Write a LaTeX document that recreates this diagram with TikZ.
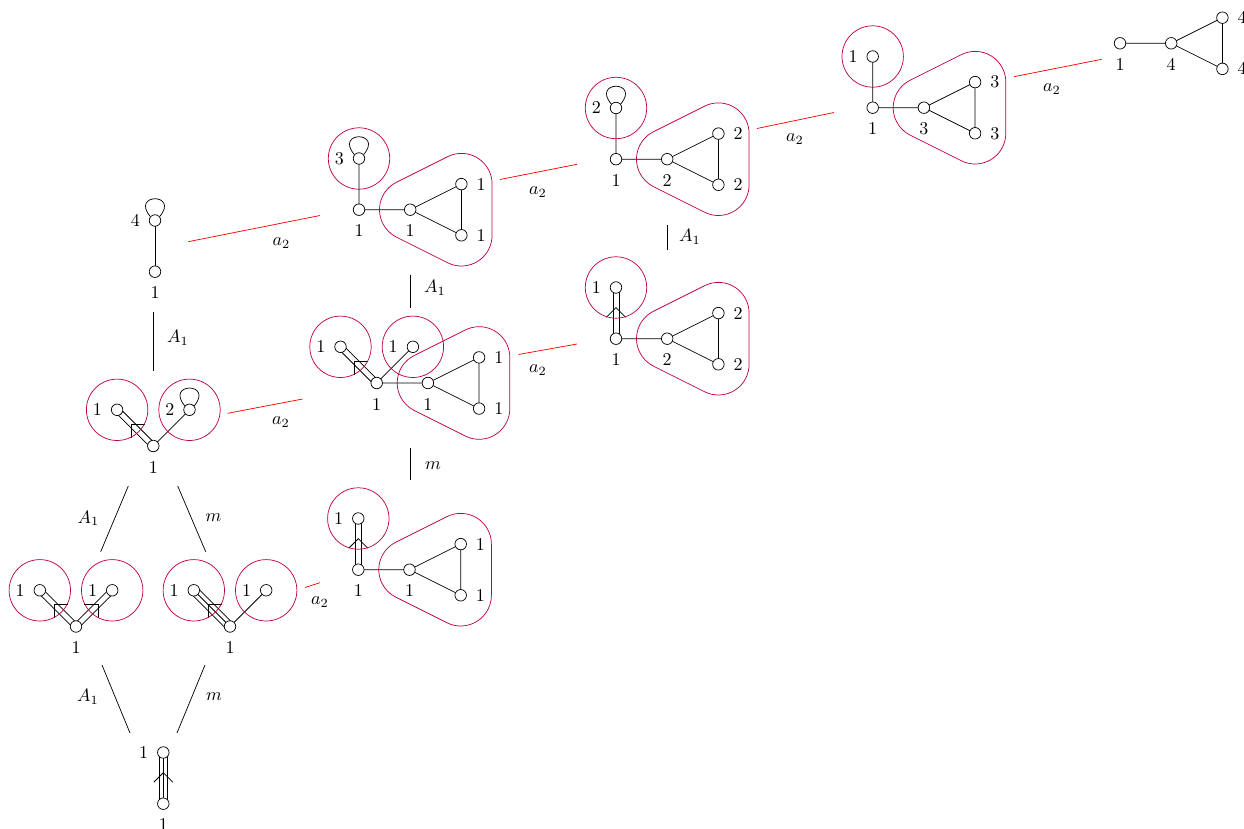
\documentclass[tikz,border=0pt]{standalone}
\usetikzlibrary{calc}
\pgfdeclarelayer{bg}
\pgfsetlayers{bg,main}
\colorlet{hlcol}{purple}
\tikzset{
  vtx/.style={circle, draw, fill=white, minimum size=6.4pt, inner sep=0pt, line width=0.4pt},
  hl/.style={draw=hlcol, line width=0.4pt},
  rel/.style={draw=red, line width=0.4pt},
  conn/.style={draw=black, line width=0.4pt},
  lbl/.style={inner sep=0pt},
}
% one strand of a bond, shifted sideways by #3
\newcommand\strand[3]{%
  \draw ($(#1)!#3!90:(#2)$) -- ($(#2)!#3!-90:(#1)$);
}
% double and triple bonds between vertex centres
\newcommand\dblbond[2]{\strand{#1}{#2}{1.65pt}\strand{#1}{#2}{-1.65pt}}
\newcommand\trpbond[2]{\strand{#1}{#2}{2.4pt}\strand{#1}{#2}{0pt}\strand{#1}{#2}{-2.4pt}}
% arrow mark on a multiple bond, pointing from #1 towards #2
\newcommand\dynmark[2]{%
  \coordinate (wv) at ($(#1)!0.5!(#2)!3pt!(#2)$);
  \draw ($(wv)!7.5pt!45:(#1)$) -- (wv) -- ($(wv)!7.5pt!-45:(#1)$);
}
% small loop on top of a vertex
\newcommand\toploop[1]{%
  \draw (#1.140) .. controls +(130:31) and +(50:31) .. (#1.40);
}
% rounded hull around a triangle: left vertex #1, upper #2, lower #3
\newcommand\blob[3]{%
  \draw[hl] ($(#1)+(116.57:30.7)$) arc[start angle=116.57, end angle=243.43, radius=30.7]
    -- ($(#3)+(243.43:30.7)$) arc[start angle=243.43, end angle=360, radius=30.7]
    -- ($(#2)+(0:30.7)$) arc[start angle=0, end angle=116.57, radius=30.7] -- cycle;
}
\newcommand\ring[1]{\draw[hl] (#1) circle[radius=30.7];}
\begin{document}
\begin{tikzpicture}[x=0.5556pt, y=0.5556pt, label distance=1.5pt]
\useasboundingbox (0,0) rectangle (1244,-829);

% ---------- vertices ----------
% G1
\node[vtx, label=left:4] (a1) at (155,-220.5) {};
\node[vtx, label=below:1] (b1) at (155,-271.7) {};
% G2
\node[vtx, label=below:1] (c2) at (153.3,-446) {};
\node[vtx, label=left:1] (d2) at (117.1,-409.8) {};
\node[vtx, label=left:2] (e2) at (189.5,-409.8) {};
% G3
\node[vtx, label=below:1] (c3) at (76,-626.5) {};
\node[vtx, label=left:1] (d3) at (39.8,-590.3) {};
\node[vtx, label=left:1] (e3) at (112.2,-590.3) {};
% G4
\node[vtx, label=below:1] (c4) at (230,-626.5) {};
\node[vtx, label=left:1] (d4) at (193.8,-590.3) {};
\node[vtx, label=left:1] (e4) at (266.2,-590.3) {};
% G5
\node[vtx, label=left:1] (t5) at (163.3,-752.5) {};
\node[vtx, label=below:1] (b5) at (163.3,-803.7) {};
% G6
\node[vtx, label=left:3] (t6) at (359,-158.5) {};
\node[vtx, label=below:1] (b6) at (359,-209.7) {};
\node[vtx, label=below:1] (p6) at (410.2,-209.7) {};
\node[vtx, label=right:1] (q6) at (461.4,-184.1) {};
\node[vtx, label=right:1] (r6) at (461.4,-235.3) {};
% G7
\node[vtx, label=below:1] (c7) at (376.7,-383) {};
\node[vtx, label=left:1] (d7) at (340.5,-346.8) {};
\node[vtx, label=left:1] (e7) at (412.9,-346.8) {};
\node[vtx, label=below:1] (p7) at (427.9,-383) {};
\node[vtx, label=right:1] (q7) at (479.1,-357.4) {};
\node[vtx, label=right:1] (r7) at (479.1,-408.6) {};
% G8
\node[vtx, label=left:1] (t8) at (358.3,-518.5) {};
\node[vtx, label=below:1] (b8) at (358.3,-569.7) {};
\node[vtx, label=below:1] (p8) at (409.5,-569.7) {};
\node[vtx, label=right:1] (q8) at (460.7,-544.1) {};
\node[vtx, label=right:1] (r8) at (460.7,-595.3) {};
% G9
\node[vtx, label=left:1] (t9) at (616,-287.5) {};
\node[vtx, label=below:1] (b9) at (616,-338.7) {};
\node[vtx, label=below:2] (p9) at (667.2,-338.7) {};
\node[vtx, label=right:2] (q9) at (718.4,-313.1) {};
\node[vtx, label=right:2] (r9) at (718.4,-364.3) {};
% G10
\node[vtx, label=left:2] (t10) at (616,-108) {};
\node[vtx, label=below:1] (b10) at (616,-159.2) {};
\node[vtx, label=below:2] (p10) at (667.2,-159.2) {};
\node[vtx, label=right:2] (q10) at (718.4,-133.6) {};
\node[vtx, label=right:2] (r10) at (718.4,-184.8) {};
% G11
\node[vtx, label=left:1] (t11) at (872.7,-56.5) {};
\node[vtx, label=below:1] (b11) at (872.7,-107.7) {};
\node[vtx, label=below:3] (p11) at (923.9,-107.7) {};
\node[vtx, label=right:3] (q11) at (975.1,-82.1) {};
\node[vtx, label=right:3] (r11) at (975.1,-133.3) {};
% G12
\node[vtx, label=below:1] (b12) at (1120,-43.3) {};
\node[vtx, label=below:4] (p12) at (1171.2,-43.3) {};
\node[vtx, label=right:4] (q12) at (1222.4,-17.7) {};
\node[vtx, label=right:4] (r12) at (1222.4,-68.9) {};

% ---------- bonds ----------
\begin{pgfonlayer}{bg}
  \draw (a1.center) -- (b1.center);
  \dblbond{c2}{d2}
  \draw (c2.center) -- (e2.center);
  \dblbond{c3}{d3}
  \dblbond{c3}{e3}
  \trpbond{c4}{d4}
  \draw (c4.center) -- (e4.center);
  \trpbond{b5}{t5}
  \draw (t6.center) -- (b6.center) -- (p6.center) -- (q6.center) -- (r6.center) -- (p6.center);
  \dblbond{c7}{d7}
  \draw (c7.center) -- (e7.center);
  \draw (c7.center) -- (p7.center) -- (q7.center) -- (r7.center) -- (p7.center);
  \dblbond{b8}{t8}
  \draw (b8.center) -- (p8.center) -- (q8.center) -- (r8.center) -- (p8.center);
  \dblbond{b9}{t9}
  \draw (b9.center) -- (p9.center) -- (q9.center) -- (r9.center) -- (p9.center);
  \draw (t10.center) -- (b10.center) -- (p10.center) -- (q10.center) -- (r10.center) -- (p10.center);
  \draw (t11.center) -- (b11.center) -- (p11.center) -- (q11.center) -- (r11.center) -- (p11.center);
  \draw (b12.center) -- (p12.center) -- (q12.center) -- (r12.center) -- (p12.center);
\end{pgfonlayer}

% loops
\toploop{a1}
\toploop{e2}
\toploop{t6}
\toploop{t10}

% arrow marks
\dynmark{c2}{d2}
\dynmark{c3}{d3}
\dynmark{c3}{e3}
\dynmark{c4}{d4}
\dynmark{b5}{t5}
\dynmark{c7}{d7}
\dynmark{b8}{t8}
\dynmark{b9}{t9}

% ---------- highlighted parts ----------
\ring{d2} \ring{e2}
\ring{d3} \ring{e3}
\ring{d4} \ring{e4}
\ring{t6} \blob{p6}{q6}{r6}
\ring{d7} \ring{e7} \blob{p7}{q7}{r7}
\ring{t8} \blob{p8}{q8}{r8}
\ring{t9} \blob{p9}{q9}{r9}
\ring{t10} \blob{p10}{q10}{r10}
\ring{t11} \blob{p11}{q11}{r11}

% ---------- black connectors ----------
\coordinate (k1s) at (153,-312);   \coordinate (k1e) at (153,-371);
\coordinate (k2s) at (128.3,-486); \coordinate (k2e) at (100.7,-551.7);
\coordinate (k3s) at (177.7,-486); \coordinate (k3e) at (205.7,-551.7);
\coordinate (k4s) at (102,-665);   \coordinate (k4e) at (130,-733);
\coordinate (k5s) at (205,-665);   \coordinate (k5e) at (177,-733);
\coordinate (k6s) at (410,-275);   \coordinate (k6e) at (410,-308);
\coordinate (k7s) at (410,-448);   \coordinate (k7e) at (410,-480);
\coordinate (k8s) at (667,-225);   \coordinate (k8e) at (667,-250);
\foreach \k in {1,...,8} { \draw[conn] (k\k s) -- (k\k e); }
\node[lbl] (k1l) at (178,-338) {$A_1$};
\node[lbl] (k2l) at (88.5,-518.5) {$A_1$};
\node[lbl] (k3l) at (213.5,-518) {$m$};
\node[lbl] (k4l) at (88,-697) {$A_1$};
\node[lbl] (k5l) at (214,-697) {$m$};
\node[lbl] (k6l) at (435,-288) {$A_1$};
\node[lbl] (k7l) at (433,-466) {$m$};
\node[lbl] (k8l) at (690,-237) {$A_1$};

% ---------- red connectors ----------
\coordinate (r1s) at (188.3,-241.7); \coordinate (r1e) at (320,-215.5);
\coordinate (r2s) at (227.7,-413.3); \coordinate (r2e) at (302.7,-399);
\coordinate (r3s) at (305,-587.5);   \coordinate (r3e) at (320,-582.7);
\coordinate (r4s) at (518.5,-354.5); \coordinate (r4e) at (577,-344);
\coordinate (r5s) at (500,-179.5);   \coordinate (r5e) at (577,-164.3);
\coordinate (r6s) at (757,-128.5);   \coordinate (r6e) at (834,-112.5);
\coordinate (r7s) at (1014,-76.7);   \coordinate (r7e) at (1101.7,-59.3);
\foreach \k in {1,...,7} { \draw[rel] (r\k s) -- (r\k e); }
\node[lbl] (r1l) at (281.3,-243) {$a_2$};
\node[lbl] (r2l) at (281,-422) {$a_2$};
\node[lbl] (r3l) at (320,-602) {$a_2$};
\node[lbl] (r4l) at (538,-370) {$a_2$};
\node[lbl] (r5l) at (538,-192) {$a_2$};
\node[lbl] (r6l) at (795,-139) {$a_2$};
\node[lbl] (r7l) at (1052,-89) {$a_2$};
\end{tikzpicture}
\end{document}
